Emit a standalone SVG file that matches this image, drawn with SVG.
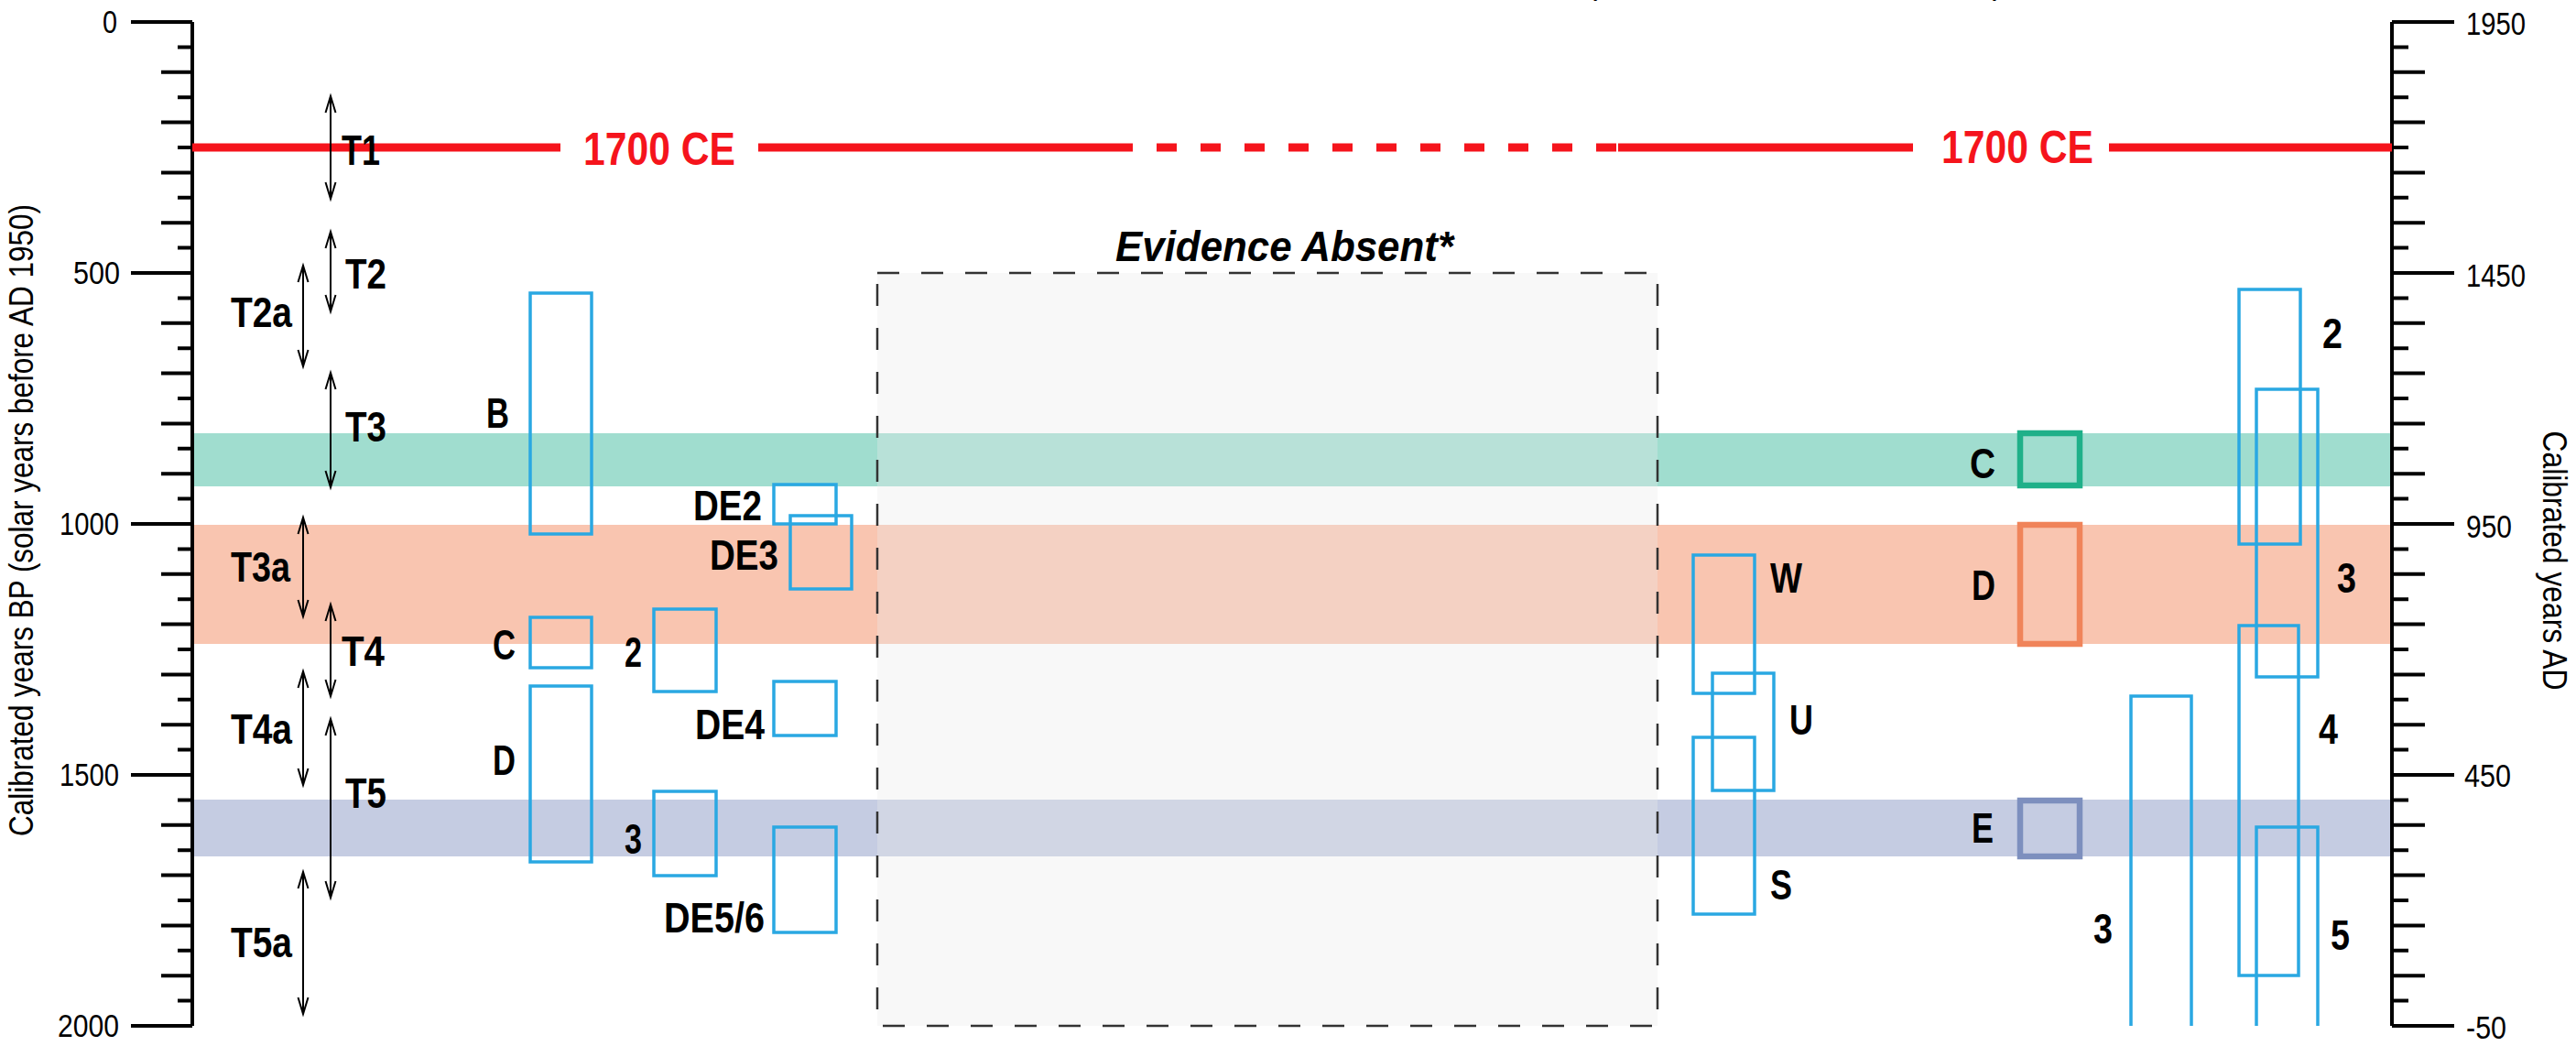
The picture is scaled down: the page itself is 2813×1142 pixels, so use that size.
<svg xmlns="http://www.w3.org/2000/svg" width="2813" height="1142" viewBox="0 0 2813 1142">
  <style>
    .axis { stroke: #000; stroke-width: 4; fill: none; }
    .num { font-family: "Liberation Sans", Arial, sans-serif; font-size: 35px; fill: #000; }
    .title { font-family: "Liberation Sans", Arial, sans-serif; font-size: 36px; fill: #000; }
    .lbl { font-family: "Liberation Sans", Arial, sans-serif; font-size: 46px; font-weight: bold; fill: #000; }
    .red { stroke: #f5141c; stroke-width: 9; fill: none; }
    .redtxt { font-family: "Liberation Sans", Arial, sans-serif; font-size: 50px; font-weight: bold; fill: #f5141c; }
    .range { stroke: #000; stroke-width: 2; fill: none; marker-start: url(#tip); marker-end: url(#tip); }
    .box { stroke: #2aa8e2; stroke-width: 3.5; fill: none; }
    .thick { stroke-width: 6.5; fill: none; }
  </style>
  <defs>
    <marker id="tip" markerUnits="userSpaceOnUse" markerWidth="24" markerHeight="14" viewBox="-20 -7 24 14" refX="0" refY="0" orient="auto-start-reverse">
      <path d="M-18 -5.5 L0 0 L-18 5.5" fill="none" stroke="#000" stroke-width="2"/>
    </marker>
  </defs>

  <rect width="2813" height="1142" fill="#fff"/>

  <!-- time bands -->
  <g id="bands">
    <rect x="210" y="473" width="2402" height="58" fill="#a0ddcf"/>
    <rect x="210" y="573" width="2402" height="130" fill="#f9c5b0"/>
    <rect x="210" y="873" width="2402" height="62" fill="#c5cce2"/>
  </g>

  <!-- region without evidence -->
  <g id="evidence-absent">
    <rect x="958" y="298" width="852" height="822" fill="#ebebeb" fill-opacity="0.33" stroke="#333" stroke-width="2.5" stroke-dasharray="24 24"/>
    <text class="lbl" x="1218" y="285" font-style="italic" textLength="369" lengthAdjust="spacingAndGlyphs">Evidence Absent*</text>
  </g>

  <!-- left axis: calibrated years BP -->
  <g id="axis-left">
    <path class="axis" d="M210 24V1120"/>
    <path class="axis" d="M143 24H210M143 298H210M143 572H210M143 846H210M143 1120H210"/>
    <path class="axis" d="M176 78.8H210M176 133.6H210M176 188.4H210M176 243.2H210M176 352.8H210M176 407.6H210M176 462.4H210M176 517.2H210M176 626.8H210M176 681.6H210M176 736.4H210M176 791.2H210M176 900.8H210M176 955.6H210M176 1010.4H210M176 1065.2H210"/>
    <path class="axis" d="M194 51.4H210M194 106.2H210M194 161H210M194 215.8H210M194 270.6H210M194 325.4H210M194 380.2H210M194 435H210M194 489.8H210M194 544.6H210M194 599.4H210M194 654.2H210M194 709H210M194 763.8H210M194 818.6H210M194 873.4H210M194 928.2H210M194 983H210M194 1037.8H210M194 1092.6H210"/>
    <g class="num" text-anchor="end">
      <text x="128" y="36" textLength="16" lengthAdjust="spacingAndGlyphs">0</text>
      <text x="131" y="310" textLength="51" lengthAdjust="spacingAndGlyphs">500</text>
      <text x="130" y="584" textLength="65" lengthAdjust="spacingAndGlyphs">1000</text>
      <text x="130" y="858" textLength="65" lengthAdjust="spacingAndGlyphs">1500</text>
      <text x="130" y="1132" textLength="67" lengthAdjust="spacingAndGlyphs">2000</text>
    </g>
    <text class="title" transform="translate(36 568) rotate(-90)" text-anchor="middle" textLength="690" lengthAdjust="spacingAndGlyphs">Calibrated years  BP (solar years before AD 1950)</text>
  </g>

  <!-- right axis: calibrated years AD -->
  <g id="axis-right">
    <path class="axis" d="M2612 24V1120"/>
    <path class="axis" d="M2612 24H2680M2612 298H2680M2612 572H2680M2612 846H2680M2612 1120H2680"/>
    <path class="axis" d="M2612 78.8H2648M2612 133.6H2648M2612 188.4H2648M2612 243.2H2648M2612 352.8H2648M2612 407.6H2648M2612 462.4H2648M2612 517.2H2648M2612 626.8H2648M2612 681.6H2648M2612 736.4H2648M2612 791.2H2648M2612 900.8H2648M2612 955.6H2648M2612 1010.4H2648M2612 1065.2H2648"/>
    <path class="axis" d="M2612 51.4H2630M2612 106.2H2630M2612 161H2630M2612 215.8H2630M2612 270.6H2630M2612 325.4H2630M2612 380.2H2630M2612 435H2630M2612 489.8H2630M2612 544.6H2630M2612 599.4H2630M2612 654.2H2630M2612 709H2630M2612 763.8H2630M2612 818.6H2630M2612 873.4H2630M2612 928.2H2630M2612 983H2630M2612 1037.8H2630M2612 1092.6H2630"/>
    <g class="num">
      <text x="2693" y="38" textLength="65" lengthAdjust="spacingAndGlyphs">1950</text>
      <text x="2693" y="313" textLength="65" lengthAdjust="spacingAndGlyphs">1450</text>
      <text x="2693" y="587" textLength="50" lengthAdjust="spacingAndGlyphs">950</text>
      <text x="2691" y="859" textLength="51" lengthAdjust="spacingAndGlyphs">450</text>
      <text x="2693" y="1134" textLength="44" lengthAdjust="spacingAndGlyphs">-50</text>
    </g>
    <text class="title" transform="translate(2777 612) rotate(90)" text-anchor="middle" textLength="283" lengthAdjust="spacingAndGlyphs">Calibrated years  AD</text>
  </g>

  <!-- 1700 CE marker line -->
  <g id="line-1700">
    <path class="red" d="M210 161H612M828 161H1237M1767 161H2089M2303 161H2612"/>
    <path class="red" d="M1263 161H1765" stroke-dasharray="22 26"/>
    <text class="redtxt" x="637" y="180" textLength="166" lengthAdjust="spacingAndGlyphs">1700 CE</text>
    <text class="redtxt" x="2120" y="178" textLength="166" lengthAdjust="spacingAndGlyphs">1700 CE</text>
  </g>

  <!-- tsunami interval ranges -->
  <g id="connectors">
    <path class="range" d="M361 105V217"/>
    <path class="range" d="M361 253V340"/>
    <path class="range" d="M331 290V400"/>
    <path class="range" d="M361 407V532"/>
    <path class="range" d="M331 565V673"/>
    <path class="range" d="M361 660V760"/>
    <path class="range" d="M331 733V857"/>
    <path class="range" d="M361 785V980"/>
    <path class="range" d="M331 952V1107"/>
  </g>

  <g id="interval-labels" class="lbl">
    <text x="373" y="180" textLength="42" lengthAdjust="spacingAndGlyphs">T1</text>
    <text x="377" y="315" textLength="45" lengthAdjust="spacingAndGlyphs">T2</text>
    <text x="252" y="357" textLength="67" lengthAdjust="spacingAndGlyphs">T2a</text>
    <text x="377" y="482" textLength="45" lengthAdjust="spacingAndGlyphs">T3</text>
    <text x="252" y="635" textLength="65" lengthAdjust="spacingAndGlyphs">T3a</text>
    <text x="373" y="727" textLength="47" lengthAdjust="spacingAndGlyphs">T4</text>
    <text x="252" y="812" textLength="67" lengthAdjust="spacingAndGlyphs">T4a</text>
    <text x="377" y="882" textLength="45" lengthAdjust="spacingAndGlyphs">T5</text>
    <text x="252" y="1045" textLength="67" lengthAdjust="spacingAndGlyphs">T5a</text>
  </g>

  <!-- western site records -->
  <g id="site-B"><rect class="box" x="579" y="320" width="67" height="263"/><text class="lbl" x="531" y="467" textLength="25" lengthAdjust="spacingAndGlyphs">B</text></g>
  <g id="site-C"><rect class="box" x="579" y="674" width="67" height="55"/><text class="lbl" x="538" y="720" textLength="25" lengthAdjust="spacingAndGlyphs">C</text></g>
  <g id="site-D"><rect class="box" x="579" y="749" width="67" height="192"/><text class="lbl" x="538" y="846" textLength="25" lengthAdjust="spacingAndGlyphs">D</text></g>
  <g id="site-2"><rect class="box" x="714" y="665" width="68" height="90"/><text class="lbl" x="682" y="728" textLength="19" lengthAdjust="spacingAndGlyphs">2</text></g>
  <g id="site-3"><rect class="box" x="714" y="864" width="68" height="92"/><text class="lbl" x="682" y="932" textLength="19" lengthAdjust="spacingAndGlyphs">3</text></g>
  <g id="site-DE2"><rect class="box" x="845" y="529" width="68" height="43"/><text class="lbl" x="757" y="568" textLength="75" lengthAdjust="spacingAndGlyphs">DE2</text></g>
  <g id="site-DE3"><rect class="box" x="863" y="563" width="67" height="80"/><text class="lbl" x="775" y="622" textLength="75" lengthAdjust="spacingAndGlyphs">DE3</text></g>
  <g id="site-DE4"><rect class="box" x="845" y="744" width="68" height="59"/><text class="lbl" x="759" y="807" textLength="76" lengthAdjust="spacingAndGlyphs">DE4</text></g>
  <g id="site-DE56"><rect class="box" x="845" y="903" width="68" height="115"/><text class="lbl" x="725" y="1018" textLength="110" lengthAdjust="spacingAndGlyphs">DE5/6</text></g>

  <!-- eastern site records -->
  <g id="site-W"><rect class="box" x="1849" y="606" width="67" height="151"/><text class="lbl" x="1933" y="647" textLength="35" lengthAdjust="spacingAndGlyphs">W</text></g>
  <g id="site-U"><rect class="box" x="1870" y="735" width="67" height="128"/><text class="lbl" x="1954" y="802" textLength="26" lengthAdjust="spacingAndGlyphs">U</text></g>
  <g id="site-S"><rect class="box" x="1849" y="805" width="67" height="193"/><text class="lbl" x="1933" y="982" textLength="24" lengthAdjust="spacingAndGlyphs">S</text></g>

  <g id="event-C"><rect class="thick" x="2206" y="473" width="65" height="57" stroke="#1fb089"/><text class="lbl" x="2151" y="522" textLength="28" lengthAdjust="spacingAndGlyphs">C</text></g>
  <g id="event-D"><rect class="thick" x="2206" y="573" width="65" height="130" stroke="#f0845a"/><text class="lbl" x="2153" y="655" textLength="26" lengthAdjust="spacingAndGlyphs">D</text></g>
  <g id="event-E"><rect class="thick" x="2206" y="874" width="65" height="61" stroke="#7d8fbe"/><text class="lbl" x="2153" y="920" textLength="24" lengthAdjust="spacingAndGlyphs">E</text></g>

  <g id="core-3-open"><path class="box" d="M2327 1120V760H2393V1120"/><text class="lbl" x="2286" y="1030" textLength="21" lengthAdjust="spacingAndGlyphs">3</text></g>
  <g id="core-2"><rect class="box" x="2445" y="316" width="67" height="278"/><text class="lbl" x="2536" y="380" textLength="22" lengthAdjust="spacingAndGlyphs">2</text></g>
  <g id="core-3"><rect class="box" x="2464" y="425" width="67" height="314"/><text class="lbl" x="2552" y="647" textLength="21" lengthAdjust="spacingAndGlyphs">3</text></g>
  <g id="core-4"><rect class="box" x="2445" y="683" width="65" height="382"/><text class="lbl" x="2532" y="812" textLength="21" lengthAdjust="spacingAndGlyphs">4</text></g>
  <g id="core-5"><path class="box" d="M2464 1120V903H2531V1120"/><text class="lbl" x="2545" y="1037" textLength="21" lengthAdjust="spacingAndGlyphs">5</text></g>

  <!-- clipped caption remnants along the top edge -->
  <g class="title">
    <text x="1740" y="-7">)</text>
    <text x="2168" y="-7">(</text>
  </g>
</svg>
